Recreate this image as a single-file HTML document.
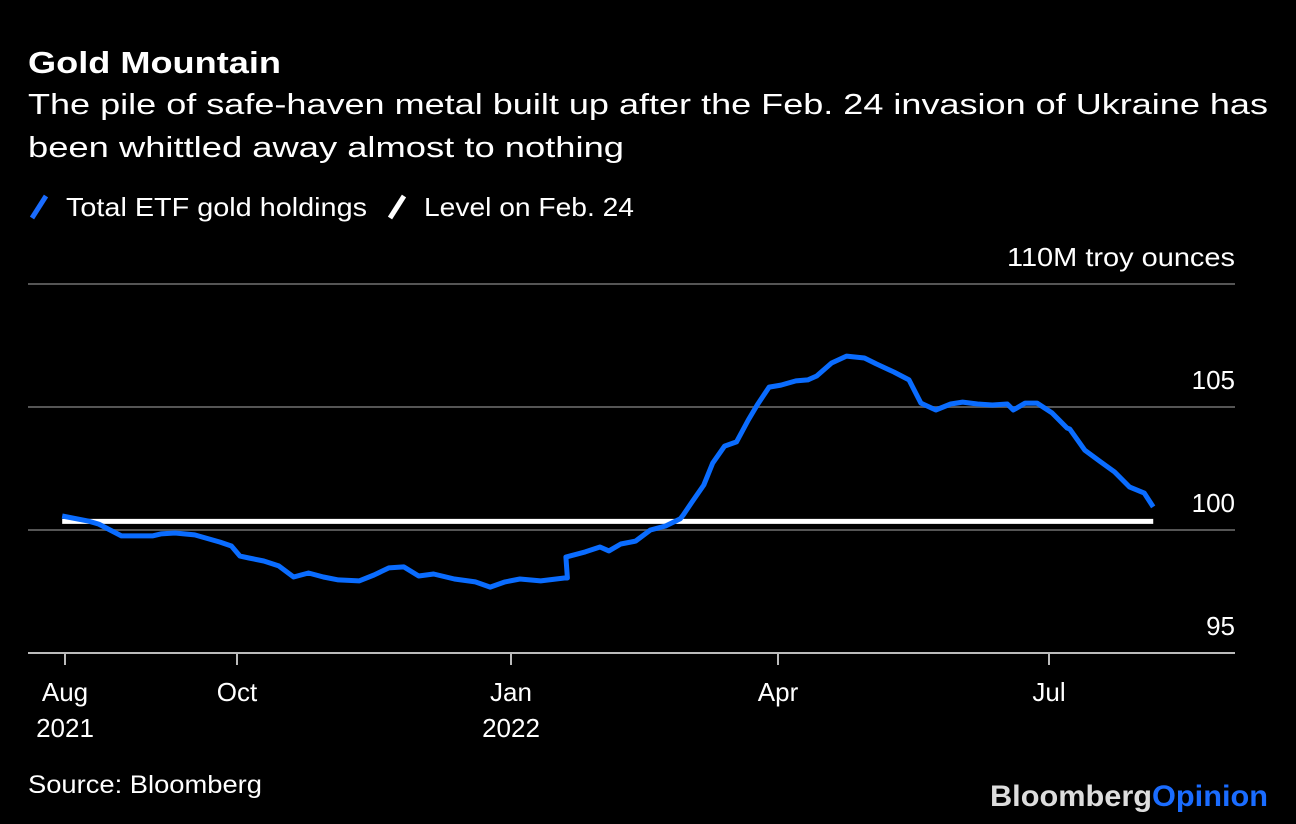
<!DOCTYPE html>
<html><head><meta charset="utf-8"><style>
body{margin:0;background:#000;width:1296px;height:824px;overflow:hidden;font-family:"Liberation Sans",sans-serif;color:#fff}
</style></head><body>
<svg width="1296" height="824" style="position:absolute;left:0;top:0">
<text x="28" y="73" font-size="31" font-weight="bold" fill="#fff" textLength="253" lengthAdjust="spacingAndGlyphs">Gold Mountain</text>
<text x="28" y="114" font-size="29" fill="#fff" textLength="1240" lengthAdjust="spacingAndGlyphs">The pile of safe-haven metal built up after the Feb. 24 invasion of Ukraine has</text>
<text x="28" y="157" font-size="29" fill="#fff" textLength="596" lengthAdjust="spacingAndGlyphs">been whittled away almost to nothing</text>
<g>
<line x1="32" y1="218" x2="46" y2="196" stroke="#1a6cff" stroke-width="5"/>
<text x="66" y="216" font-size="26" fill="#fff" textLength="301" lengthAdjust="spacingAndGlyphs">Total ETF gold holdings</text>
<line x1="390" y1="218" x2="404" y2="196" stroke="#fff" stroke-width="5"/>
<text x="424" y="216" font-size="26" fill="#fff" textLength="210" lengthAdjust="spacingAndGlyphs">Level on Feb. 24</text>
</g>
<g id="grid"></g><g id="xaxis"></g><g id="series"></g>
<text x="28" y="793" font-size="25" fill="#fff" textLength="234" lengthAdjust="spacingAndGlyphs">Source: Bloomberg</text>
<text x="1268" y="806" font-size="30" font-weight="bold" text-anchor="end" textLength="278" lengthAdjust="spacingAndGlyphs"><tspan fill="#ddd">Bloomberg</tspan><tspan fill="#1a6cff">Opinion</tspan></text>
</svg>
<script>
const yTicks=[95,100,105,110];
const yTickLabels=["95","100","105","110M troy ounces"];
const xTickDays=[0,61,153,243,334];
const xTickLabels=[["Aug","2021"],["Oct",""],["Jan","2022"],["Apr",""],["Jul",""]];
const days=[-1,8,12,20,31,34,39,46,55,59,62,65,70,75,80,85,90,95,102,107,112,117,122,127,134,141,146,151,156,163,171,172,171.5,178,183,186,190,195,200,205,210,211,214,218,221,225,229,233,236,240,244,249,253,256,261,266,272,276,282,287,291,296,301,305,310,315,320,322,326,330,335,340,341,346,351,356,361,366,369];
const values=[100.57,100.37,100.24,99.76,99.76,99.84,99.88,99.80,99.51,99.35,98.94,98.86,98.74,98.54,98.09,98.25,98.09,97.97,97.93,98.17,98.46,98.50,98.13,98.21,98.01,97.89,97.68,97.89,98.01,97.93,98.05,98.05,98.90,99.11,99.31,99.15,99.43,99.55,100.0,100.16,100.45,100.6,101.14,101.83,102.72,103.41,103.58,104.47,105.08,105.81,105.89,106.06,106.1,106.26,106.79,107.07,106.99,106.75,106.42,106.1,105.16,104.88,105.12,105.2,105.12,105.08,105.12,104.88,105.16,105.16,104.76,104.15,104.1,103.25,102.8,102.36,101.75,101.5,100.94];
const febLevel=100.35;
const refStartDay=-1, refEndDay=369;
const xKnotDays=[0,61,153,243,334];
const xKnotPx=[65,237,511,778,1049];
function xs(d){
 let i=0; while(i<xKnotDays.length-2 && d>xKnotDays[i+1]) i++;
 const t=(d-xKnotDays[i])/(xKnotDays[i+1]-xKnotDays[i]);
 return xKnotPx[i]+t*(xKnotPx[i+1]-xKnotPx[i]);
}
const ys=v=>530-(v-100)*24.6;
const NS="http://www.w3.org/2000/svg";
function mk(tag,attrs,parent){const e=document.createElementNS(NS,tag);for(const k in attrs)e.setAttribute(k,attrs[k]);document.getElementById(parent).appendChild(e);return e;}
yTicks.forEach((t,i)=>{
 const l=mk('line',{x1:28,x2:1235,y1:ys(t),y2:ys(t),stroke:t===95?'#bbb':'#555','stroke-width':2},'grid');
 
 
 const a={x:1235,y:ys(t)-18,'font-size':26,fill:'#fff','text-anchor':'end'};
 if(t===110){a.textLength=228;a.lengthAdjust='spacingAndGlyphs';}
 const tx=mk('text',a,'grid');
 tx.textContent=yTickLabels[i];
 
 
});
xTickDays.forEach((d,i)=>{
 const x=xs(d);
 const l=mk('line',{x1:x,x2:x,y1:653,y2:665,stroke:'#bbb','stroke-width':2},'xaxis');
 
 
 xTickLabels[i].forEach((s,j)=>{if(!s)return;
  const t=mk('text',{x:x,y:701+j*36,'font-size':26,fill:'#fff','text-anchor':'middle'},'xaxis');
  t.textContent=s;
  
  
 });
});
const ref=mk('line',{x1:xs(refStartDay),x2:xs(refEndDay),y1:ys(febLevel),y2:ys(febLevel),stroke:'#fff','stroke-width':5},'series');


const p=mk('path',{d:days.map((d,i)=>(i?'L':'M')+xs(d).toFixed(1)+','+ys(values[i]).toFixed(1)).join(''),fill:'none',stroke:'#0a6cff','stroke-width':5,'stroke-linejoin':'round'},'series');


</script>
</body></html>
